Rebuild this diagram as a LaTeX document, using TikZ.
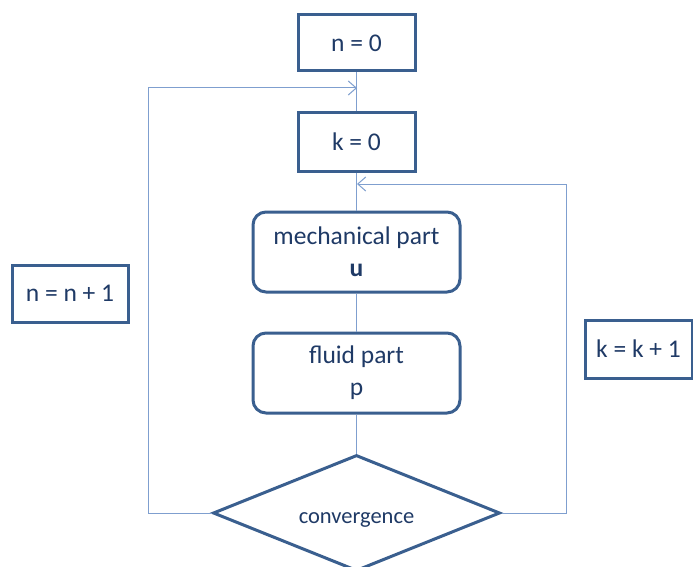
\documentclass[tikz,border=0pt]{standalone}
\usepackage{fontspec}
\setmainfont{Carlito}
\usetikzlibrary{shapes.geometric,arrows.meta}
\definecolor{boxline}{HTML}{3A5F8F}
\definecolor{wire}{HTML}{7F9FCF}
\definecolor{ink}{HTML}{1F3A66}
\tikzset{
  every node/.style={text=ink,font=\fontsize{25.5}{32}\selectfont},
  stepbox/.style={draw=boxline,line width=3pt,rectangle,inner sep=0pt,align=center},
  partbox/.style={stepbox,rounded corners=13pt},
  testbox/.style={draw=boxline,line width=3pt,diamond,inner sep=0pt,aspect=2.47,minimum width=287pt,minimum height=116pt},
  wireline/.style={draw=wire,line width=1pt},
  loopin/.style={wireline,-{Straight Barb[length=8pt,width=14pt,line width=1pt]}},
}
\begin{document}
\begin{tikzpicture}[x=1pt,y=-1pt]
  \clip (0,0) rectangle (693,567);
  \fill[white] (0,0) rectangle (693,567);
  % main chain
  \node[stepbox,minimum width=117pt,minimum height=56pt] (n0) at (356.5,43) {n = 0};
  \node[stepbox,minimum width=117pt,minimum height=58pt] (k0) at (356.5,142) {k = 0};
  \node[partbox,minimum width=207pt,minimum height=80pt] (mech) at (356.5,252) {mechanical part\\\textbf{u}};
  \node[partbox,minimum width=207pt,minimum height=80pt] (fluid) at (356.5,373) {fluid part\\p};
  \node[testbox,font=\fontsize{22.5}{26}\selectfont,text height=21pt,text depth=0pt] (conv) at (356.5,513) {convergence};
  % counters
  \node[stepbox,minimum width=116pt,minimum height=57pt] (ninc) at (70,293.5) {n = n + 1};
  \node[stepbox,minimum width=107pt,minimum height=58pt] (kinc) at (638.5,349) {k = k + 1};
  % connectors
  \draw[wireline] (n0.south) -- (k0.north);
  \draw[wireline] (k0.south) -- (mech.north);
  \draw[wireline] (mech.south) -- (fluid.north);
  \draw[wireline] (fluid.south) -- (conv.north);
  \coordinate (nin) at (357,88);
  \coordinate (kin) at (357,184);
  \coordinate (lc) at (148,513);
  \coordinate (rc) at (566,513);
  \draw[loopin] (conv.west) -- (lc) |- (nin);
  \draw[loopin] (conv.east) -- (rc) |- (kin);
\end{tikzpicture}
\end{document}
